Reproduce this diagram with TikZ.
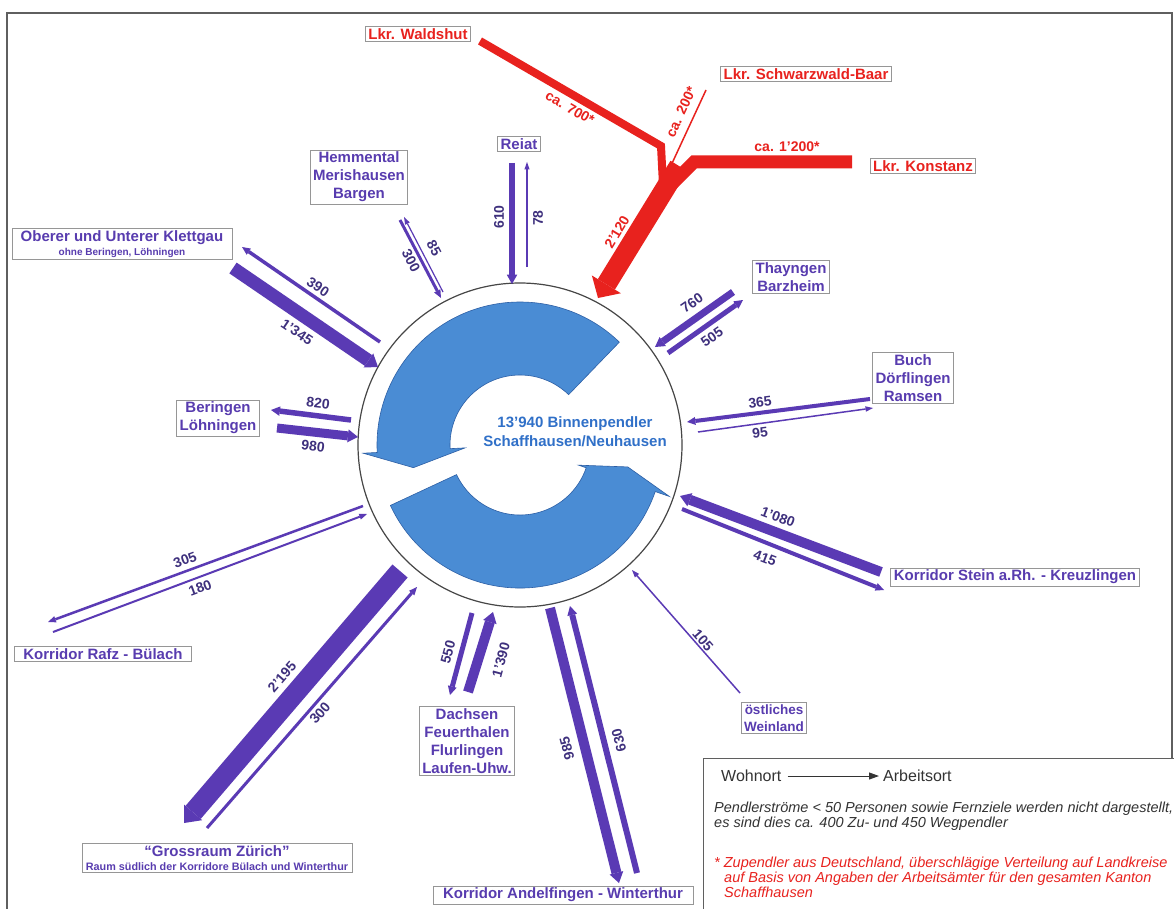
\documentclass[tikz,border=0pt]{standalone}
\usepackage{fontspec}
\setmainfont{Liberation Sans}
\usetikzlibrary{arrows.meta}
\definecolor{pur}{RGB}{90,58,180}
\definecolor{purtxt}{RGB}{88,60,175}
\definecolor{numc}{RGB}{62,48,125}
\definecolor{redc}{RGB}{232,34,30}
\definecolor{cblue}{RGB}{74,140,212}
\definecolor{cblued}{RGB}{45,95,165}
\definecolor{ctext}{RGB}{48,112,200}
\definecolor{boxg}{RGB}{150,150,150}
\definecolor{frameg}{RGB}{95,95,95}
\begin{document}
\begin{tikzpicture}[x=1pt,y=-1pt,
  place/.style={draw=boxg, line width=0.8pt, fill=white, inner xsep=3pt, inner ysep=2pt, align=center, text=purtxt, font=\bfseries\fontsize{15}{18}\selectfont},
  rplace/.style={place, text=redc},
  flow/.style={draw=pur, -{Triangle[length=7pt 0.35, width=4pt 1, line width=0pt]}},
  num/.style={text=numc, inner sep=0pt, font=\bfseries\fontsize{14}{16}\selectfont},
  rnum/.style={num, text=redc},
  legtxt/.style={anchor=base west, inner sep=0pt, text=black!80, font=\itshape\fontsize{14.5}{15}\selectfont},
  ]
\useasboundingbox (0,0) rectangle (1174,909);
\fill[white] (0,0) rectangle (1174,909);
% frame
\draw[frameg, line width=1.5pt] (7,912) -- (7,13) -- (1172,13) -- (1172,912);
% legend box
\draw[frameg, line width=1pt, fill=white] (703,758) rectangle (1185,915);

% central circle
\draw[gray!55!black, line width=1.2pt, fill=white] (520,445) circle[radius=162];
\begin{scope}[shift={(520,445)}]
\filldraw[fill=cblue, draw=cblued, line width=0.6pt] (-46:143) arc[start angle=-46, end angle=-183, radius=143] -- (-183:157) -- (-192:109) -- (-183:55) -- (-183:70) arc[start angle=-183, end angle=-46, radius=70] -- cycle;
\filldraw[fill=cblue, draw=cblued, line width=0.6pt] (-205:143) arc[start angle=-205, end angle=-341, radius=143] -- (-341:158) -- (-348.5:110) -- (-341:62) -- (-341:70) arc[start angle=-341, end angle=-205, radius=70] -- cycle;
\end{scope}
\node[align=center, text=ctext, font=\bfseries\fontsize{15}{19}\selectfont] (ctr) at (575,432) {13’940 Binnenpendler\\Schaffhausen/Neuhausen};

% ---------- red flows from Germany
\coordinate (wa) at (480,41); \coordinate (wb) at (661,146); \coordinate (wc) at (663,185);
\draw[redc, line width=8pt] (wa) -- (wb) -- (wc);
\coordinate (ka) at (852,162); \coordinate (kb) at (694,162); \coordinate (kc) at (668,188);
\draw[redc, line width=13pt] (ka) -- (kb) -- (kc);
\coordinate (sa) at (706,90); \coordinate (sb) at (668,172);
\draw[redc, line width=1.5pt] (sa) -- (sb);
\coordinate (ma) at (679,166); \coordinate (mb) at (598,298);
\draw[redc, line width=20pt, -{Triangle[length=16pt, width=34pt, line width=0pt]}] (ma) -- (mb);
\node[rplace] (wald) at (418,34) {Lkr. Waldshut};
\node[rplace] (schw) at (806,74) {Lkr. Schwarzwald-Baar};
\node[rplace] (kons) at (923,166) {Lkr. Konstanz};
\node[rnum, rotate=-30] (l700) at (570,108) {ca. 700*};
\node[rnum, rotate=65] (l200) at (681,112) {ca. 200*};
\node[rnum] (l1200) at (787,147) {ca. 1’200*};
\node[rnum, rotate=59] (l2120) at (617,232) {2’120};

% ---------- purple flows
% Reiat
\coordinate (r1a) at (512,163); \coordinate (r1b) at (512,284);
\draw[flow, line width=6.5pt] (r1a) -- (r1b);
\coordinate (r2a) at (527,267); \coordinate (r2b) at (527,162);
\draw[flow, line width=1.2pt] (r2a) -- (r2b);
% Hemmental
\coordinate (h1a) at (400,220); \coordinate (h1b) at (441,298);
\draw[flow, line width=3pt] (h1a) -- (h1b);
\coordinate (h2a) at (443,292); \coordinate (h2b) at (404,217);
\draw[flow, line width=1.2pt] (h2a) -- (h2b);
% Klettgau
\coordinate (k1a) at (380,342); \coordinate (k1b) at (242,247);
\draw[flow, line width=3.5pt] (k1a) -- (k1b);
\coordinate (k2a) at (233,268); \coordinate (k2b) at (378,367);
\draw[flow, line width=13pt] (k2a) -- (k2b);
% Beringen
\coordinate (b1a) at (351,420); \coordinate (b1b) at (271,410);
\draw[flow, line width=5.5pt] (b1a) -- (b1b);
\coordinate (b2a) at (277,428); \coordinate (b2b) at (358,437);
\draw[flow, line width=9pt] (b2a) -- (b2b);
% Rafz
\coordinate (z1a) at (363,506); \coordinate (z1b) at (48,622);
\draw[flow, line width=2.5pt] (z1a) -- (z1b);
\coordinate (z2a) at (53,632); \coordinate (z2b) at (367,514);
\draw[flow, line width=2pt] (z2a) -- (z2b);
% Zuerich
\coordinate (g1a) at (400,571); \coordinate (g1b) at (184,823);
\draw[flow, line width=20pt] (g1a) -- (g1b);
\coordinate (g2a) at (207,828); \coordinate (g2b) at (417,587);
\draw[flow, line width=3pt] (g2a) -- (g2b);
% Dachsen
\coordinate (d1a) at (472,613); \coordinate (d1b) at (450,695);
\draw[flow, line width=5pt] (d1a) -- (d1b);
\coordinate (d2a) at (468,692); \coordinate (d2b) at (493,612);
\draw[flow, line width=10pt] (d2a) -- (d2b);
% Andelfingen
\coordinate (a1a) at (550,608); \coordinate (a1b) at (619,883);
\draw[flow, line width=10pt] (a1a) -- (a1b);
\coordinate (a2a) at (637,873); \coordinate (a2b) at (570,606);
\draw[flow, line width=6pt] (a2a) -- (a2b);
% Weinland
\coordinate (w1a) at (740,693); \coordinate (w1b) at (632,570);
\draw[flow, line width=1.5pt] (w1a) -- (w1b);
% Stein
\coordinate (s1a) at (881,572); \coordinate (s1b) at (680,496);
\draw[flow, line width=10pt] (s1a) -- (s1b);
\coordinate (s2a) at (682,509); \coordinate (s2b) at (884,590);
\draw[flow, line width=4pt] (s2a) -- (s2b);
% Buch
\coordinate (u1a) at (870,399); \coordinate (u1b) at (687,422);
\draw[flow, line width=4pt] (u1a) -- (u1b);
\coordinate (u2a) at (698,432); \coordinate (u2b) at (873,408);
\draw[flow, line width=1.5pt] (u2a) -- (u2b);
% Thayngen
\coordinate (t1a) at (733,292); \coordinate (t1b) at (655,347);
\draw[flow, line width=7pt] (t1a) -- (t1b);
\coordinate (t2a) at (668,353); \coordinate (t2b) at (743,300);
\draw[flow, line width=5pt] (t2a) -- (t2b);

% ---------- place boxes
\node[place] (reiat) at (519,144) {Reiat};
\node[place] (hemm) at (359,177) {Hemmental\\Merishausen\\Bargen};
\node[place, minimum width=220pt] (klett) at (122,244) {Oberer und Unterer Klettgau\\[-4pt]{\fontsize{10}{11}\selectfont ohne Beringen, Löhningen}};
\node[place] (ber) at (218,418) {Beringen\\Löhningen};
\node[place, minimum width=177pt] (rafz) at (103,654) {Korridor Rafz - Bülach};
\node[place, minimum width=270pt] (zh) at (217,858) {``Grossraum Zürich''\\[-4pt]{\fontsize{10.8}{11}\selectfont Raum südlich der Korridore Bülach und Winterthur}};
\node[place] (dach) at (467,741) {Dachsen\\Feuerthalen\\Flurlingen\\Laufen-Uhw.};
\node[place, minimum width=260pt] (andel) at (563,895) {Korridor Andelfingen - Winterthur};
\node[place, font=\bfseries\fontsize{13.5}{17}\selectfont] (wein) at (774,718) {östliches\\Weinland};
\node[place] (stein) at (1015,577) {Korridor Stein a.Rh. - Kreuzlingen};
\node[place] (buch) at (913,378) {Buch\\Dörflingen\\Ramsen};
\node[place] (thay) at (791,277) {Thayngen\\Barzheim};

% ---------- flow numbers
\node[num, rotate=90] (n610) at (499,217) {610};
\node[num, rotate=90] (n78) at (538,218) {78};
\node[num, rotate=-62] (n85) at (434,248) {85};
\node[num, rotate=-62] (n300a) at (411,261) {300};
\node[num, rotate=-34] (n390) at (318,287) {390};
\node[num, rotate=-34] (n1345) at (297,332) {1’345};
\node[num, rotate=-7] (n820) at (318,403) {820};
\node[num, rotate=-7] (n980) at (313,446) {980};
\node[num, rotate=20.5] (n305) at (185,560) {305};
\node[num, rotate=20.5] (n180) at (200,588) {180};
\node[num, rotate=49] (n2195) at (282,677) {2’195};
\node[num, rotate=49] (n300b) at (320,713) {300};
\node[num, rotate=75] (n550) at (448,652) {550};
\node[num, rotate=75] (n1390) at (501,660) {1’390};
\node[num, rotate=105] (n985) at (567,748) {985};
\node[num, rotate=105] (n630) at (619,740) {630};
\node[num, rotate=-49] (n105) at (703,640) {105};
\node[num, rotate=-21] (n1080) at (778,517) {1’080};
\node[num, rotate=-21] (n415) at (765,558) {415};
\node[num, rotate=7] (n365) at (760,402) {365};
\node[num, rotate=7] (n95) at (760,433) {95};
\node[num, rotate=35] (n760) at (692,303) {760};
\node[num, rotate=35] (n505) at (712,337) {505};

% ---------- legend
\node[anchor=west, inner sep=0pt, text=black!80, font=\fontsize{16}{18}\selectfont] (woh) at (721,776) {Wohnort};
\node[anchor=west, inner sep=0pt, text=black!80, font=\fontsize{16}{18}\selectfont] (arb) at (883,776) {Arbeitsort};
\draw[black!80, line width=1pt, shorten <=6pt, shorten >=4pt, -{Triangle[length=10pt, width=7pt]}] (woh.east) -- (arb.west);
\node[legtxt] (lg1) at (714,812) {Pendlerströme < 50 Personen sowie Fernziele werden nicht dargestellt,};
\node[legtxt] (lg2) at (714,827) {es sind dies ca. 400 Zu- und 450 Wegpendler};
\node[legtxt, text=redc] (lg3) at (714,867) {* Zupendler aus Deutschland, überschlägige Verteilung auf Landkreise};
\node[legtxt, text=redc] (lg4) at (724,882) {auf Basis von Angaben der Arbeitsämter für den gesamten Kanton};
\node[legtxt, text=redc] (lg5) at (724,897) {Schaffhausen};
\end{tikzpicture}
\end{document}
